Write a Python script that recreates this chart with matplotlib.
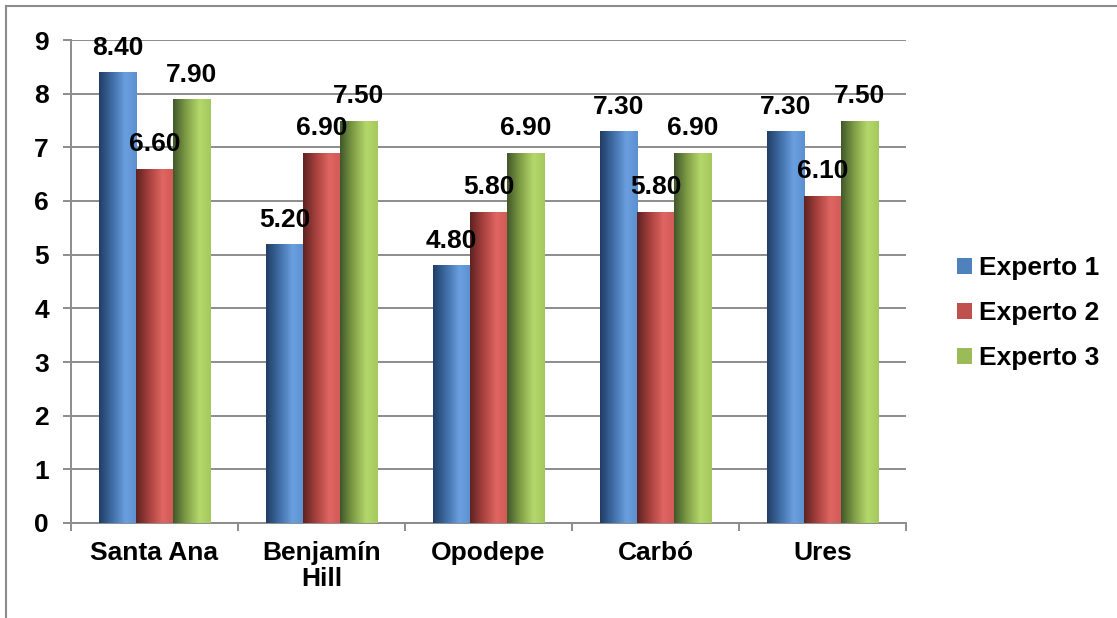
import numpy as np
import matplotlib
matplotlib.use("Agg")
import matplotlib.pyplot as plt
from matplotlib.colors import LinearSegmentedColormap
from matplotlib.lines import Line2D
from matplotlib.patches import Patch

categories = ["Santa Ana", "Benjamín\nHill", "Opodepe", "Carbó", "Ures"]
series_names = ["Experto 1", "Experto 2", "Experto 3"]
experto1 = [8.4, 5.2, 4.8, 7.3, 7.3]
experto2 = [6.6, 6.9, 5.8, 5.8, 6.1]
experto3 = [7.9, 7.5, 6.9, 6.9, 7.5]
y_ticks = [0, 1, 2, 3, 4, 5, 6, 7, 8, 9]

base_colors = ["#4f81bd", "#c0504d", "#9bbb59"]
grad_stops = [
    ["#213d63", "#3f6da6", "#6a9fe0", "#5b8fd0"],
    ["#5e2220", "#a8413e", "#e06662", "#cf5a56"],
    ["#41572a", "#7f9e45", "#b5d86c", "#a5c85e"],
]

plt.rcParams['font.family'] = ['Liberation Sans', 'DejaVu Sans']
plt.rcParams['font.weight'] = 'bold'
FS = 19

fig = plt.figure(figsize=(11.17, 6.18), dpi=100)
ax = fig.add_axes([71/1117, 1-523/618, (906-71)/1117, (523-40)/618])

n = len(categories)
x = np.arange(n)
bw = 1/4.5
series = [experto1, experto2, experto3]
grid_col = "#8c8c8c"

ax.set_xlim(-0.5, n-0.5)
ax.set_ylim(0, 9)
ax.set_yticks(y_ticks)
ax.yaxis.grid(True, color=grid_col, linewidth=1.4, zorder=0)
ax.set_axisbelow(True)

for i, (vals, name) in enumerate(zip(series, series_names)):
    offs = (i - 1) * bw
    bars = ax.bar(x + offs, vals, width=bw, color=base_colors[i], zorder=2, label=name)
    cmap = LinearSegmentedColormap.from_list("g%d" % i,
        list(zip([0, 0.35, 0.70, 1.0], grad_stops[i])))
    grad = np.linspace(0, 1, 256).reshape(1, -1)
    for b, v in zip(bars, vals):
        x0, w, h = b.get_x(), b.get_width(), b.get_height()
        im = ax.imshow(grad, cmap=cmap, aspect='auto', extent=[x0, x0+w, 0, h],
                       zorder=3, interpolation='bicubic')
        im.set_clip_path(b)
        ax.annotate(f"{v:.2f}", (b.get_x()+w/2, h), xytext=(0, 12.5),
                    textcoords='offset points', ha='center', va='baseline',
                    fontsize=FS, fontweight='bold', color='black', zorder=5)

ax.set_xlim(-0.5, n-0.5)
ax.set_ylim(0, 9)

for s in ["top", "right"]:
    ax.spines[s].set_visible(False)
for s in ["left", "bottom"]:
    ax.spines[s].set_color(grid_col)
    ax.spines[s].set_linewidth(1.4)

ax.set_xticks(np.arange(n+1) - 0.5)
ax.set_xticklabels([])
ax.set_xticks(x, minor=True)
ax.set_xticklabels(categories, minor=True, fontsize=FS, fontweight='bold', linespacing=1.1)
ax.tick_params(axis='x', which='major', length=6, color=grid_col, width=1.4, direction='out')
ax.tick_params(axis='x', which='minor', length=0, pad=13)
ax.tick_params(axis='y', length=6, color=grid_col, width=1.4, pad=10, labelsize=FS)
for t in ax.get_yticklabels():
    t.set_fontweight('bold')

handles = [Patch(facecolor=c, edgecolor='none') for c in base_colors]
fig.legend(handles, series_names, loc='center left', bbox_to_anchor=(957/1117, 1-313/618),
           frameon=False, prop={'weight': 'bold', 'size': FS},
           handlelength=0.55, handleheight=0.55, handletextpad=0.3, labelspacing=0.8,
           borderaxespad=0, borderpad=0)

fig.add_artist(Line2D([6/1117, 1], [1-6/618, 1-6/618], transform=fig.transFigure,
                      color="#8c8c8c", linewidth=1.5))
fig.add_artist(Line2D([6/1117, 6/1117], [0, 1-6/618], transform=fig.transFigure,
                      color="#8c8c8c", linewidth=1.5))

fig.savefig("out.png", dpi=100, facecolor='white')
